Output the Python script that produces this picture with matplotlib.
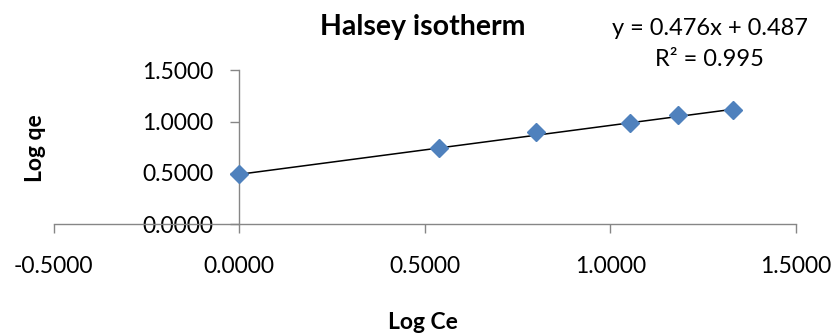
import matplotlib
matplotlib.use('Agg')
from matplotlib import pyplot as plt
import numpy as np

# data
log_ce = [0.0, 0.539, 0.800, 1.053, 1.184, 1.331]
log_qe = [0.487, 0.740, 0.896, 0.983, 1.064, 1.113]
fit_slope = 0.476
fit_intercept = 0.487
fit_r2 = 0.995

x_ticks = [-0.5, 0.0, 0.5, 1.0, 1.5]
y_ticks = [0.0, 0.5, 1.0, 1.5]

plt.rcParams['font.family'] = ['Lato', 'DejaVu Sans']
axis_grey = '#868686'

fig = plt.figure(figsize=(8.37, 3.33), dpi=100)
ax = fig.add_axes([0.0642, 0.3264, 0.8865, 0.4625])

# trendline over the data range
xs = np.array([min(log_ce), max(log_ce)])
ax.plot(xs, fit_slope * xs + fit_intercept, color='black', lw=1.1, zorder=2)
ax.plot(log_ce, log_qe, linestyle='none', marker='D', markersize=9,
        color='#4F81BD', markeredgecolor='#4F81BD', zorder=3, clip_on=False)

ax.set_xlim(x_ticks[0], x_ticks[-1])
ax.set_ylim(y_ticks[0], y_ticks[-1])
ax.set_xticks(x_ticks)
ax.set_yticks(y_ticks)
ax.set_xticklabels(['%.4f' % v for v in x_ticks])
ax.set_yticklabels(['%.4f' % v for v in y_ticks])

# axes cross at the origin, Excel style
ax.spines['left'].set_position(('data', 0))
ax.spines['top'].set_visible(False)
ax.spines['right'].set_visible(False)
for s in ('left', 'bottom'):
    ax.spines[s].set_color(axis_grey)
    ax.spines[s].set_linewidth(1.0)
ax.tick_params(axis='x', direction='out', length=6.5, width=1.0, color=axis_grey,
               pad=16, labelsize=16.5, labelcolor='black')
ax.tick_params(axis='y', direction='out', length=6.5, width=1.0, color=axis_grey,
               pad=12, labelsize=16.5, labelcolor='black')
ax.patch.set_visible(False)

fig.text(0.505, 0.918, 'Halsey isotherm', ha='center', va='center',
         fontsize=20.5, fontweight='bold')
fig.text(0.043, 0.555, 'Log qe', ha='center', va='center', rotation=90,
         fontsize=16.5, fontweight='bold')
fig.text(0.505, 0.033, 'Log Ce', ha='center', va='center',
         fontsize=16.5, fontweight='bold')

fig.text(0.8477, 0.915, 'y = %.3fx + %.3f' % (fit_slope, fit_intercept),
         ha='center', va='center', fontsize=17)
fig.text(0.8477, 0.822, 'R² = %.3f' % fit_r2, ha='center', va='center',
         fontsize=17)

fig.savefig('out.png', dpi=100)
